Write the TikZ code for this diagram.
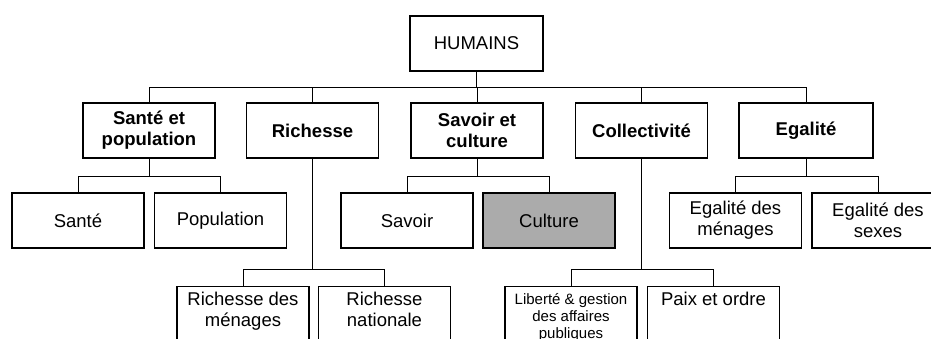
\documentclass[tikz,border=0pt]{standalone}
\usepackage{fontspec}
\setmainfont{Liberation Sans}
\begin{document}
\begin{tikzpicture}[x=1pt, y=-1pt,
  box/.style={draw, line width=1.1pt, minimum width=132pt, minimum height=55pt,
    inner sep=0pt, align=center, font=\fontsize{18.5}{21}\selectfont},
  head/.style={box, font=\fontsize{18.5}{21}\selectfont\bfseries},
  shaded/.style={box, fill=black!33},
  leaf/.style={box, minimum height=90pt, anchor=north},
  note/.style={anchor=north, inner sep=0pt, align=center,
    font=\fontsize{18.5}{20.5}\selectfont},
  small note/.style={note, font=\fontsize{15}{17}\selectfont},
  wire/.style={line width=0.9pt}]
\useasboundingbox (0,0) rectangle (931,338);
\clip (0,0) rectangle (931,338);

% root
\node[box, minimum width=133pt] (hum) at (476.5,43.5) {HUMAINS};

% first level
\node[head] (sp)  at (149,130.5)   {Santé et\\population};
\node[head] (ri)  at (312.5,130.5) {Richesse};
\node[head] (sc)  at (477,130.5)   {Savoir et\\culture};
\node[head] (co)  at (641.5,130.5) {Collectivité};
\node[head, minimum width=134pt] (eg) at (806,130.5) {Egalité};

% second level
\node[box]    (sa)  at (78,220.5)    {Santé};
\node[box]    (po)  at (220.5,220.5) {Population};
\node[box]    (sv)  at (407,220.5)   {Savoir};
\node[shaded] (cu)  at (549,220.5)   {Culture};
\node[box]    (em)  at (735.5,220.5) {Egalité des\\ménages};
\node[box]    (es)  at (878,220.5)   {Egalité des\\sexes};

% third level, boxes running off the lower edge
\node[leaf, label={[note, yshift=-6pt]north:{Richesse des\\ménages}}] (rm) at (243,286) {};
\node[leaf, label={[note, yshift=-6pt]north:{Richesse\\nationale}}] (rn) at (384.5,286) {};
\node[leaf, label={[small note, yshift=-7pt]north:{Liberté \& gestion\\des affaires\\publiques}}] (lg) at (571,286) {};
\node[leaf, label={[note, yshift=-6pt]north:{Paix et ordre}}] (pa) at (713.5,286) {};

% connectors: root to first level
\draw[wire] (hum.south) -- ++(0,16) coordinate (b0);
\foreach \n in {sp,ri,sc,co,eg} \draw[wire] (\n.north) |- (b0);

% first level to second level
\draw[wire] (sp.south) -- ++(0,18) coordinate (b1);
\draw[wire] (sa.north) |- (b1) -| (po.north);
\draw[wire] (sc.south) -- ++(0,18) coordinate (b2);
\draw[wire] (sv.north) |- (b2) -| (cu.north);
\draw[wire] (eg.south) -- ++(0,18) coordinate (b3);
\draw[wire] (em.north) |- (b3) -| (es.north);

% first level to third level
\draw[wire] (ri.south) -- ++(0,111) coordinate (b4);
\draw[wire] (rm.north) |- (b4) -| (rn.north);
\draw[wire] (co.south) -- ++(0,111) coordinate (b5);
\draw[wire] (lg.north) |- (b5) -| (pa.north);
\end{tikzpicture}
\end{document}
